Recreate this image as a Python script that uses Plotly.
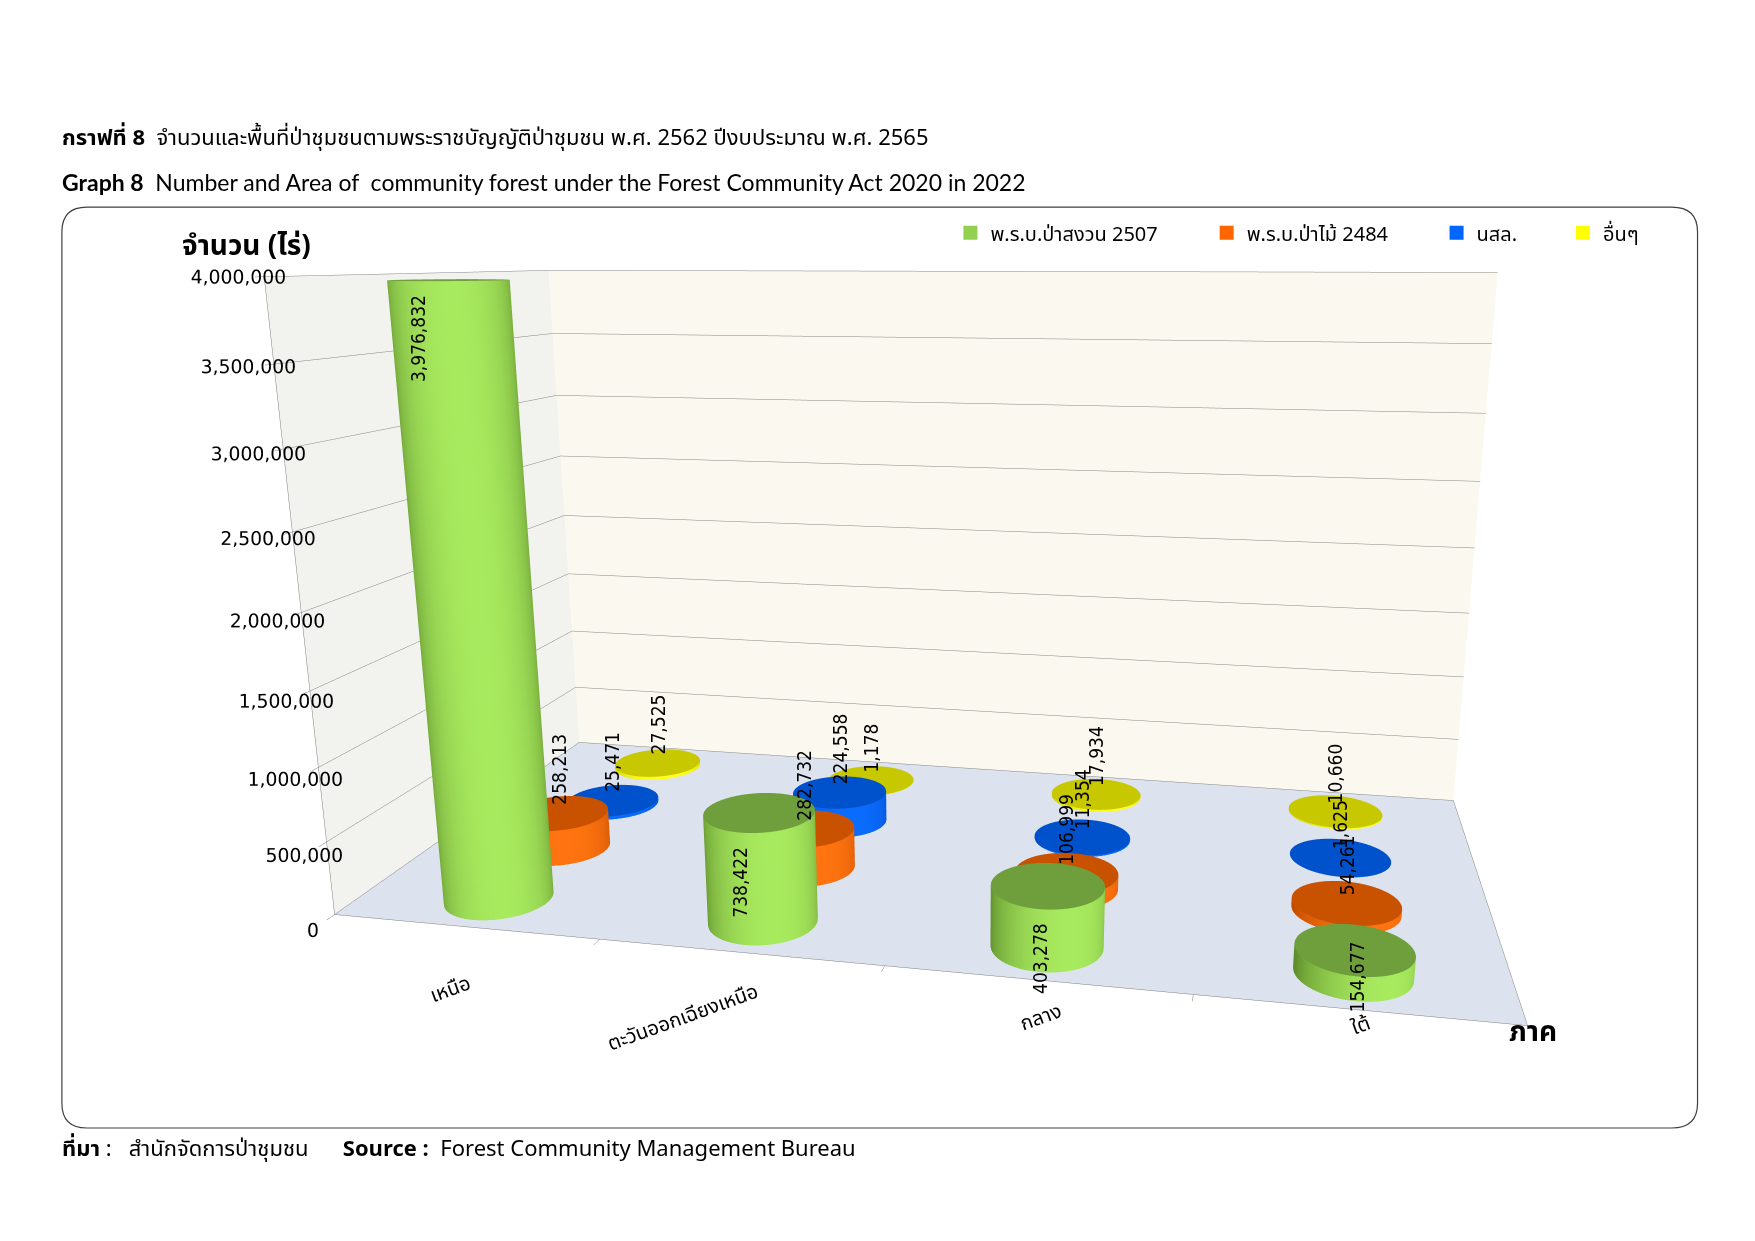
import numpy as np
import plotly.graph_objects as go

# ข้อมูล (ไร่) ตามภาค
regions = ["เหนือ", "ตะวันออกเฉียงเหนือ", "กลาง", "ใต้"]
series_names = ["พ.ร.บ.ป่าสงวน 2507", "พ.ร.บ.ป่าไม้ 2484", "นสล.", "อื่นๆ"]
pa_sanguan_2507 = [3976832, 738422, 403278, 154677]
pa_mai_2484 = [258213, 282732, 106999, 54261]
nsl = [25471, 224558, 11354, 1625]
others = [27525, 1178, 17934, 10660]
z_tickvals = [0, 500000, 1000000, 1500000, 2000000, 2500000, 3000000, 3500000, 4000000]

series_values = [pa_sanguan_2507, pa_mai_2484, nsl, others]
# (สีด้านข้างเข้ม, สีด้านข้างสว่าง, สีฝาบน, สี legend)
series_colors = [
    ("#5f8f2c", "#a8ea5e", "#6f9f3d", "#92d050"),
    ("#c24c00", "#ff7410", "#c85200", "#ff6600"),
    ("#0043b8", "#0a6cff", "#0052cc", "#0066ff"),
    ("#c9c900", "#ffff20", "#c8c800", "#ffff00"),
]

ASPECT = dict(x=2.5, y=1.224, z=1.369)
RX = 0.19
RY = RX * (ASPECT["x"] / 4.0) / (ASPECT["y"] / 4.0)
FLAT_LIGHT = dict(ambient=1, diffuse=0, specular=0, fresnel=0)


def cylinder(xc, yc, h, dark, light, top):
    t = np.linspace(0, 2 * np.pi, 60)
    T, Z = np.meshgrid(t, np.array([0.0, h]))
    shade = np.cos(T - (-np.pi / 2 + 0.55))
    side = go.Surface(x=xc + RX * np.cos(T), y=yc + RY * np.sin(T), z=Z,
                      surfacecolor=shade, cmin=-0.3, cmax=1.0,
                      colorscale=[[0, dark], [1, light]], showscale=False,
                      lighting=FLAT_LIGHT, hoverinfo="skip")
    R, T2 = np.meshgrid(np.linspace(0, 1, 2), t)
    cap = go.Surface(x=xc + RX * R * np.cos(T2), y=yc + RY * R * np.sin(T2),
                     z=np.full(R.shape, float(h)), surfacecolor=np.zeros(R.shape),
                     colorscale=[[0, top], [1, top]], showscale=False,
                     lighting=FLAT_LIGHT, hoverinfo="skip")
    return [side, cap]


fig = go.Figure()
annotations3d = []
label_font = dict(family="Liberation Sans Narrow, DejaVu Sans Condensed", size=19, color="black")
for s, vals in enumerate(series_values):
    dark, light, top, leg = series_colors[s]
    for i, v in enumerate(vals):
        for tr in cylinder(i, s, v, dark, light, top):
            fig.add_trace(tr)
        if s == 0:
            anchor = "top" if v > 300000 else "middle"
            annotations3d.append(dict(x=i, y=s - RY, z=v, text=f"{v:,}", textangle=-90,
                                      showarrow=False, yanchor=anchor,
                                      yshift=-12 if anchor == "top" else 0, font=label_font))
        else:
            annotations3d.append(dict(x=i, y=s, z=v, text=f"{v:,}", textangle=-90,
                                      showarrow=False, yanchor="bottom", yshift=6, font=label_font))

# legend แยกตำแหน่งแต่ละรายการ
legend_x = [0.537, 0.683, 0.814, 0.886]
for s, name in enumerate(series_names):
    fig.add_trace(go.Scatter3d(x=[None], y=[None], z=[None], mode="markers", name=name,
                               marker=dict(symbol="square", size=14, color=series_colors[s][3]),
                               legend="legend" if s == 0 else f"legend{s + 1}"))

thai = "Noto Sans Thai, Tahoma, sans-serif"
legends = {}
for s in range(4):
    key = "legend" if s == 0 else f"legend{s + 1}"
    legends[key] = dict(x=legend_x[s], y=0.8188, xanchor="left", yanchor="middle",
                        orientation="h", bgcolor="rgba(0,0,0,0)",
                        font=dict(family=thai, size=20, color="black"), itemwidth=30)

# ป้ายชื่อภาค (เอียง)
region_label_pos = [(0.2519, 0.2087), (0.3846, 0.1861), (0.5884, 0.1861), (0.771, 0.1797)]
region_annotations = [
    dict(x=px_, y=py_, xref="paper", yref="paper", xanchor="center", yanchor="middle",
         showarrow=False, text=name, textangle=-20,
         font=dict(family=thai, size=20, color="black"))
    for name, (px_, py_) in zip(regions, region_label_pos)
]

fig.update_layout(
    width=1755, height=1241,
    margin=dict(l=0, r=0, t=0, b=0),
    paper_bgcolor="white",
    showlegend=True,
    **legends,
    scene=dict(
        domain=dict(x=[0.09, 1.0], y=[0.0, 1.0]),
        bgcolor="rgba(0,0,0,0)",
        aspectmode="manual", aspectratio=ASPECT,
        camera=dict(eye=dict(x=0.710, y=-3.3316, z=0.7282),
                    center=dict(x=0.0633, y=-0.0972, z=-0.0963),
                    up=dict(x=0, y=0, z=1)),
        xaxis=dict(range=[-0.5, 3.5], tickvals=[0.5, 1.5, 2.5], ticktext=["", "", ""],
                   showticklabels=False,
                   showgrid=False, zeroline=False, showline=True, linecolor="#7f7f7f",
                   ticks="outside", tickcolor="#7f7f7f", title=dict(text=""),
                   showbackground=True, backgroundcolor="#f2f2ee", showspikes=False),
        yaxis=dict(range=[-0.5, 3.5], showticklabels=False, showgrid=False, zeroline=False,
                   showline=True, linecolor="#7f7f7f", title=dict(text=""), ticks="",
                   showbackground=True, backgroundcolor="#fbf9ef", showspikes=False),
        zaxis=dict(range=[0, 4000000], tickvals=z_tickvals, tickformat=",", tickangle=0,
                   showgrid=True, gridcolor="#858585", gridwidth=1, zeroline=False,
                   showline=True, linecolor="#7f7f7f", title=dict(text=""),
                   ticks="outside", tickcolor="#7f7f7f",
                   tickfont=dict(family="DejaVu Sans", size=15, color="black"),
                   showbackground=True, backgroundcolor="#dde3ee", showspikes=False),
        annotations=annotations3d,
    ),
    shapes=[dict(type="path", xref="paper", yref="paper",
                 path="M 0.045,0.8396 L 0.948,0.8396 Q 0.9627,0.8396 0.9627,0.8196 L 0.9627,0.1175 "
                      "Q 0.9627,0.0975 0.948,0.0975 L 0.045,0.0975 Q 0.0307,0.0975 0.0307,0.1175 "
                      "L 0.0307,0.8196 Q 0.0307,0.8396 0.045,0.8396 Z",
                 line=dict(color="#404040", width=1.2), fillcolor="rgba(0,0,0,0)", layer="below")],
    annotations=[
        dict(x=0.0294, y=0.8949, xref="paper", yref="paper", xanchor="left", yanchor="middle",
             showarrow=False, align="left",
             text="<b>กราฟที่ 8</b>  จำนวนและพื้นที่ป่าชุมชนตามพระราชบัญญัติป่าชุมชน พ.ศ. 2562 ปีงบประมาณ พ.ศ. 2565",
             font=dict(family=thai, size=22, color="black")),
        dict(x=0.0294, y=0.8596, xref="paper", yref="paper", xanchor="left", yanchor="middle",
             showarrow=False, align="left",
             text="<b>Graph 8</b>  Number and Area of  community forest under the Forest Community Act 2020 in 2022",
             font=dict(family="Lato, sans-serif", size=23, color="black")),
        dict(x=0.0294, y=0.080, xref="paper", yref="paper", xanchor="left", yanchor="middle",
             showarrow=False, align="left",
             text="<b>ที่มา</b> :   สำนักจัดการป่าชุมชน      <b>Source :</b>  Forest Community Management Bureau",
             font=dict(family="Noto Sans Thai, Lato, sans-serif", size=22, color="black")),
        dict(x=0.098, y=0.808, xref="paper", yref="paper", xanchor="left", yanchor="middle",
             showarrow=False, text="<b>จำนวน (ไร่)</b>",
             font=dict(family=thai, size=28, color="black")),
        dict(x=0.8544, y=0.1743, xref="paper", yref="paper", xanchor="left", yanchor="middle",
             showarrow=False, text="<b>ภาค</b>",
             font=dict(family=thai, size=28, color="black")),
    ] + region_annotations,
)

fig.write_html("out.html")
